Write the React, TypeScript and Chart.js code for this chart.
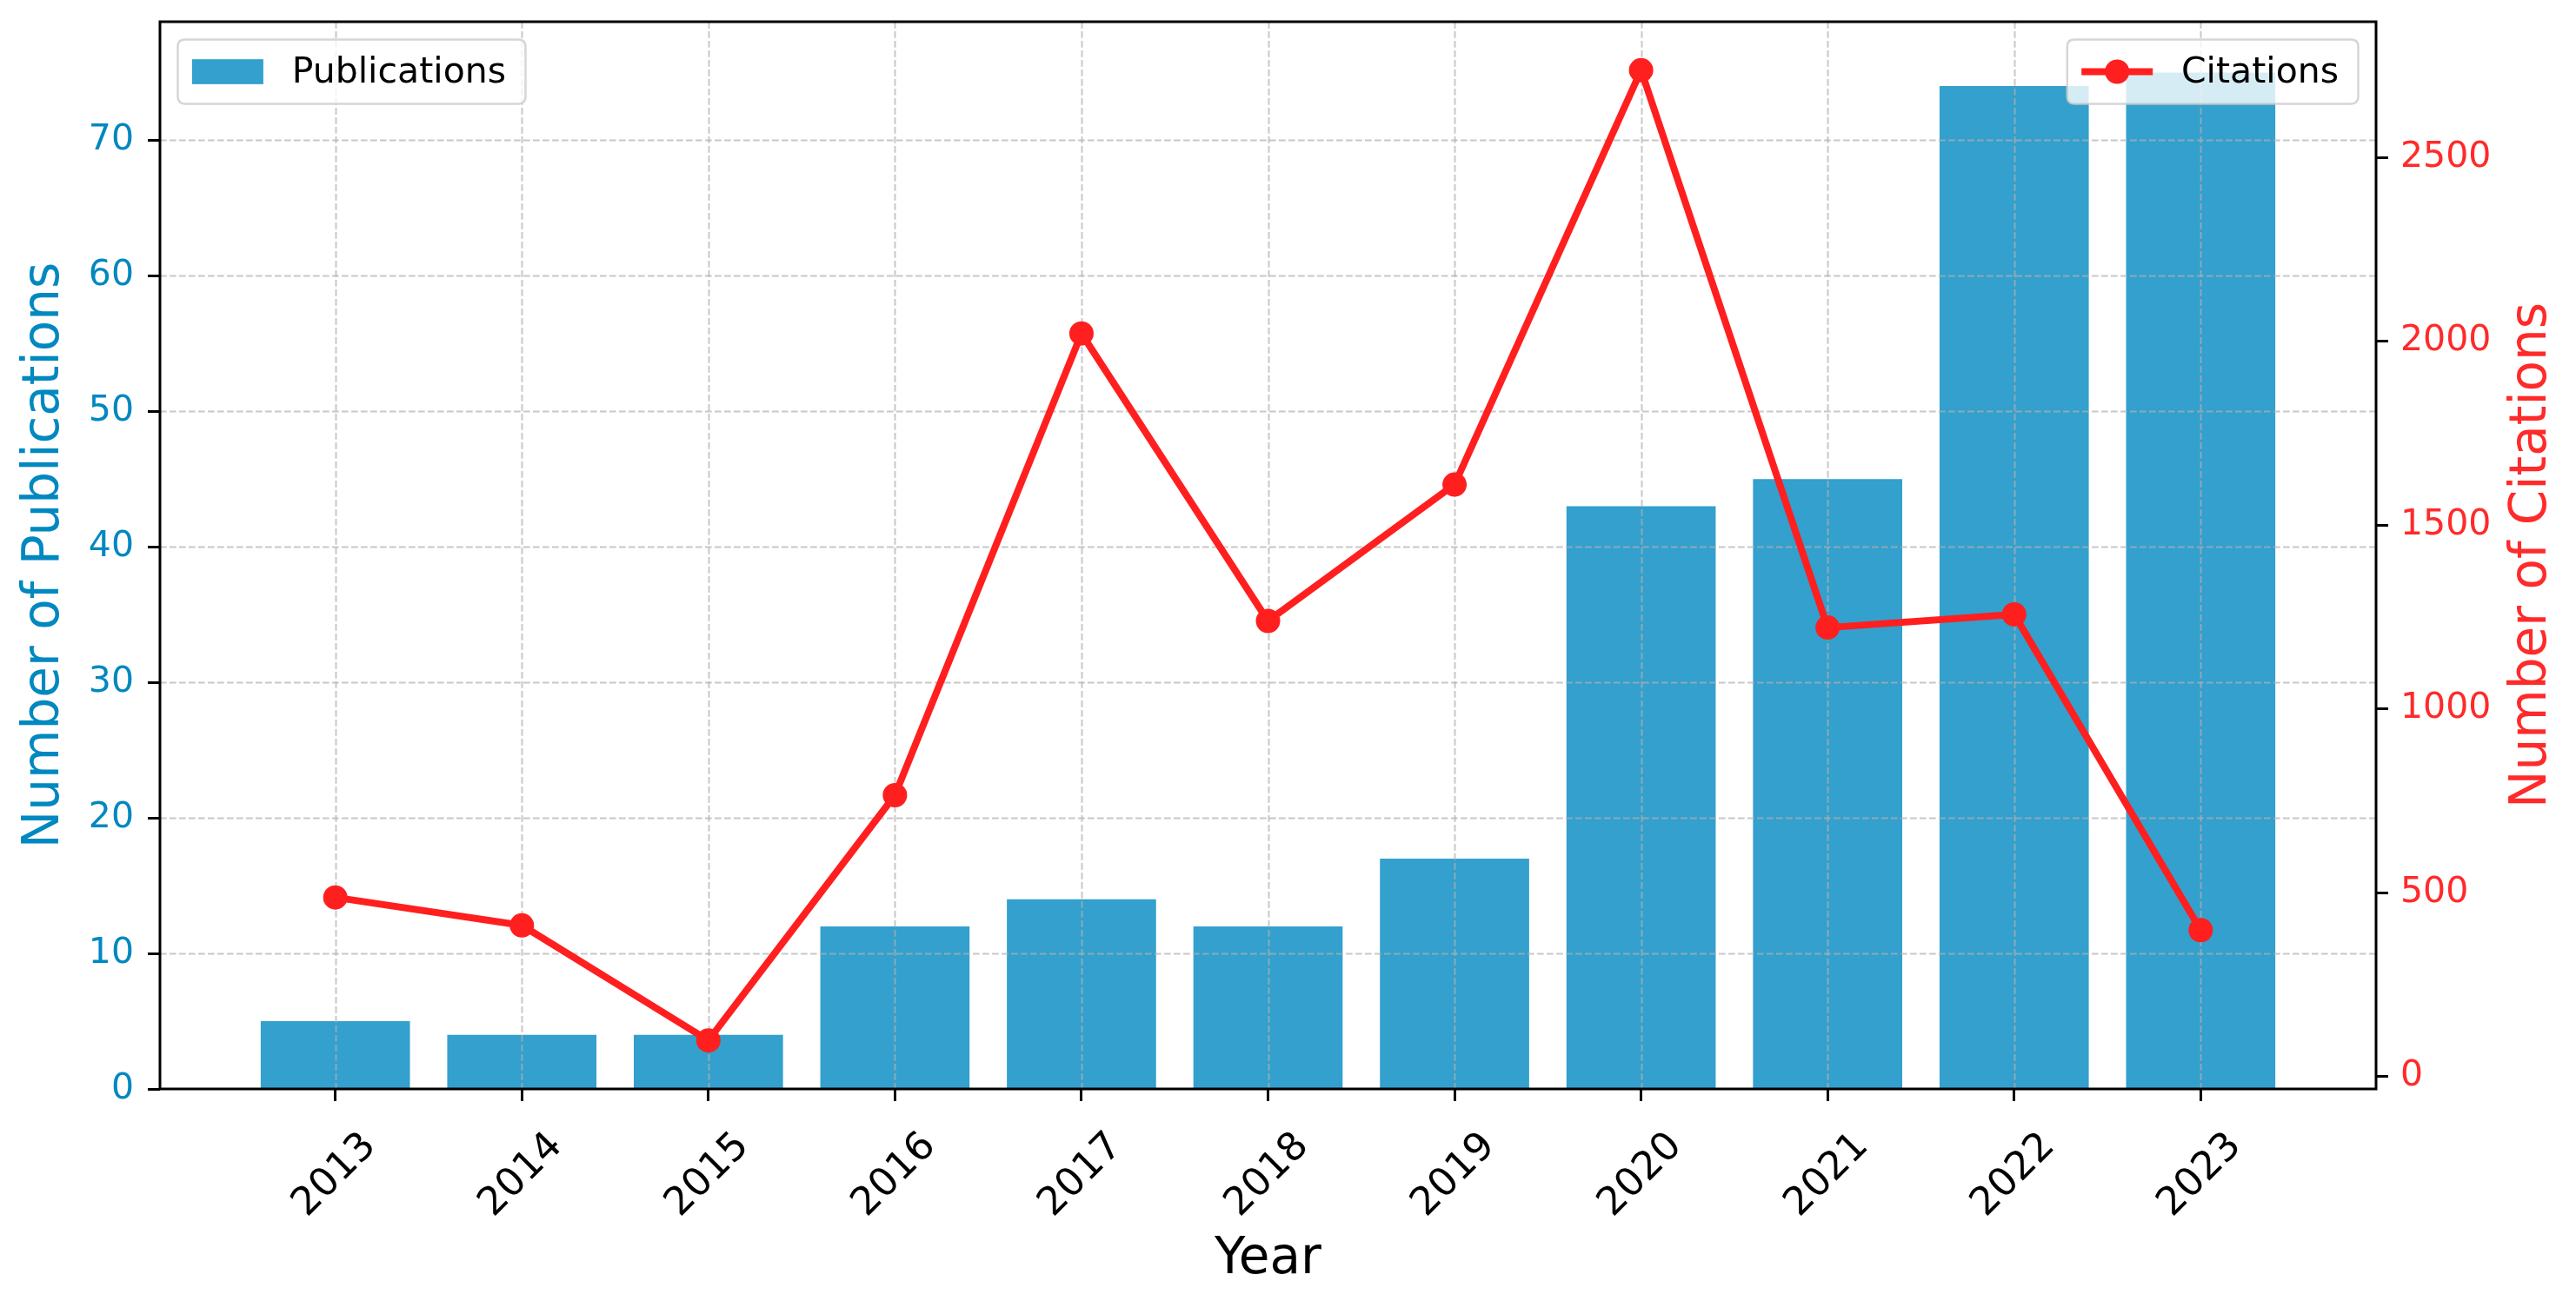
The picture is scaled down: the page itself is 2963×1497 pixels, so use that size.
import React, { useEffect, useRef } from 'react';
import { Chart, registerables } from 'chart.js';

Chart.register(...registerables);

// ---------------- data ----------------
const years = [2013, 2014, 2015, 2016, 2017, 2018, 2019, 2020, 2021, 2022, 2023];
const publications = [5, 4, 4, 12, 14, 12, 17, 43, 45, 74, 75];
const citations = [487, 411, 98, 765, 2021, 1239, 1610, 2737, 1221, 1257, 398];
const leftTicks = [0, 10, 20, 30, 40, 50, 60, 70];
const rightTicks = [0, 500, 1000, 1500, 2000, 2500];
const xTitle = 'Year';
const leftTitle = 'Number of Publications';
const rightTitle = 'Number of Citations';
const barLegend = 'Publications';
const lineLegend = 'Citations';

// ---------------- style ----------------
const FONT = '"DejaVu Sans", sans-serif';
const W = 2963;
const H = 1497;
const BLUE_TEXT = '#0088c0';
const BAR_COLOR = 'rgba(0,136,192,0.8)';
const LINE_COLOR = '#ff1f1f';
const RED_TEXT = '#ff2a2a';
const GRID_COLOR = 'rgba(176,176,176,0.7)';
const TICK_FS = 41;
const XTICK_FS = 45;
const TITLE_FS = 58;
const LEGEND_FS = 41;

// axis limits like matplotlib auto margins
const xSpan = years.length - 1 + 0.8;
const xMin = years[0] - 0.4 - 0.05 * xSpan;
const xMax = years[years.length - 1] + 0.4 + 0.05 * xSpan;
const yMax = Math.max(...publications) * 1.05;
const cMin = Math.min(...citations);
const cMax = Math.max(...citations);
const cPad = 0.05 * (cMax - cMin);

function roundRect(ctx: CanvasRenderingContext2D, x: number, y: number, w: number, h: number, r: number) {
  ctx.beginPath();
  ctx.moveTo(x + r, y);
  ctx.lineTo(x + w - r, y);
  ctx.quadraticCurveTo(x + w, y, x + w, y + r);
  ctx.lineTo(x + w, y + h - r);
  ctx.quadraticCurveTo(x + w, y + h, x + w - r, y + h);
  ctx.lineTo(x + r, y + h);
  ctx.quadraticCurveTo(x, y + h, x, y + h - r);
  ctx.lineTo(x, y + r);
  ctx.quadraticCurveTo(x, y, x + r, y);
  ctx.closePath();
}

const overlayPlugin = {
  id: 'overlay',
  beforeDatasetDraw(chart: any, args: any) {
    if (args.index !== 1) return;
    // grid drawn above bars, below line
    const { ctx, chartArea } = chart;
    const xs = chart.scales.x;
    const ys = chart.scales.y;
    ctx.save();
    ctx.beginPath();
    ctx.rect(chartArea.left, chartArea.top, chartArea.right - chartArea.left, chartArea.bottom - chartArea.top);
    ctx.clip();
    ctx.strokeStyle = GRID_COLOR;
    ctx.lineWidth = 2;
    ctx.setLineDash([7.7, 3.3]);
    years.forEach((v) => {
      const px = Math.round(xs.getPixelForValue(v)) + 0.5;
      ctx.beginPath();
      ctx.moveTo(px, chartArea.top);
      ctx.lineTo(px, chartArea.bottom);
      ctx.stroke();
    });
    leftTicks.forEach((v) => {
      const py = Math.round(ys.getPixelForValue(v)) + 0.5;
      ctx.beginPath();
      ctx.moveTo(chartArea.left, py);
      ctx.lineTo(chartArea.right, py);
      ctx.stroke();
    });
    ctx.restore();
  },
  afterDatasetsDraw(chart: any) {
    const { ctx, chartArea } = chart;
    const fs = LEGEND_FS;
    const pad = 0.4 * fs;
    const handleLen = 2 * fs;
    const handleGap = 0.8 * fs;
    const axPad = 0.5 * fs;
    const boxH = 74;
    const radius = 0.2 * fs;
    ctx.save();
    ctx.font = `${fs}px ${FONT}`;
    ctx.textBaseline = 'middle';
    ctx.textAlign = 'left';

    // Publications legend (top-left)
    {
      const tw = ctx.measureText(barLegend).width;
      const w = pad + handleLen + handleGap + tw + pad + 6;
      const x = chartArea.left + axPad;
      const y = chartArea.top + axPad;
      roundRect(ctx, x, y, w, boxH, radius);
      ctx.fillStyle = 'rgba(255,255,255,0.8)';
      ctx.fill();
      ctx.strokeStyle = 'rgba(204,204,204,0.8)';
      ctx.lineWidth = 2.5;
      ctx.stroke();
      const cy = y + boxH / 2;
      ctx.fillStyle = BAR_COLOR;
      ctx.fillRect(x + pad, cy - 0.35 * fs, handleLen, 0.7 * fs);
      ctx.fillStyle = '#000';
      ctx.fillText(barLegend, x + pad + handleLen + handleGap, cy + 2);
    }
    // Citations legend (top-right)
    {
      const tw = ctx.measureText(lineLegend).width;
      const w = pad + handleLen + handleGap + tw + pad + 6;
      const x = chartArea.right - axPad - w;
      const y = chartArea.top + axPad;
      roundRect(ctx, x, y, w, boxH, radius);
      ctx.fillStyle = 'rgba(255,255,255,0.8)';
      ctx.fill();
      ctx.strokeStyle = 'rgba(204,204,204,0.8)';
      ctx.lineWidth = 2.5;
      ctx.stroke();
      const cy = y + boxH / 2;
      ctx.strokeStyle = LINE_COLOR;
      ctx.lineWidth = 8;
      ctx.beginPath();
      ctx.moveTo(x + pad, cy);
      ctx.lineTo(x + pad + handleLen, cy);
      ctx.stroke();
      ctx.fillStyle = LINE_COLOR;
      ctx.beginPath();
      ctx.arc(x + pad + handleLen / 2, cy, 14, 0, Math.PI * 2);
      ctx.fill();
      ctx.fillStyle = '#000';
      ctx.fillText(lineLegend, x + pad + handleLen + handleGap, cy + 2);
    }
    ctx.restore();
  },
  afterDraw(chart: any) {
    const { ctx, chartArea } = chart;
    ctx.save();
    // frame (spines)
    ctx.strokeStyle = '#000';
    ctx.lineWidth = 3;
    ctx.setLineDash([]);
    ctx.strokeRect(chartArea.left, chartArea.top, chartArea.right - chartArea.left, chartArea.bottom - chartArea.top);
    // right axis title, reading bottom-to-top
    ctx.translate(2913, (chartArea.top + chartArea.bottom) / 2);
    ctx.rotate(-Math.PI / 2);
    ctx.font = `${TITLE_FS}px ${FONT}`;
    ctx.fillStyle = RED_TEXT;
    ctx.textAlign = 'center';
    ctx.textBaseline = 'middle';
    ctx.fillText(rightTitle, 0, 0);
    ctx.restore();
  },
};

const zeroPad = (s: any) => {
  s.paddingTop = 0;
  s.paddingBottom = 0;
  s.paddingLeft = 0;
  s.paddingRight = 0;
};

export default function App() {
  const ref = useRef<HTMLCanvasElement>(null);

  useEffect(() => {
    document.body.style.margin = '0';
    const canvas = ref.current;
    if (!canvas) return;

    const tickGrid = {
      drawOnChartArea: false,
      drawTicks: true,
      offset: false,
      tickLength: 14,
      tickWidth: 3,
      tickColor: '#000',
      tickBorderDash: [],
    };

    const chart = new Chart(canvas, {
      type: 'bar',
      data: {
        datasets: [
          {
            type: 'bar',
            label: barLegend,
            data: years.map((x, i) => ({ x, y: publications[i] })),
            backgroundColor: BAR_COLOR,
            borderWidth: 0,
            xAxisID: 'x',
            yAxisID: 'y',
            order: 1,
            categoryPercentage: 1,
            barPercentage: 0.8,
          } as any,
          {
            type: 'line',
            label: lineLegend,
            data: years.map((x, i) => ({ x, y: citations[i] })),
            borderColor: LINE_COLOR,
            backgroundColor: LINE_COLOR,
            borderWidth: 8,
            borderJoinStyle: 'round',
            borderCapStyle: 'round',
            pointRadius: 12,
            pointBorderWidth: 4,
            pointBackgroundColor: LINE_COLOR,
            pointBorderColor: LINE_COLOR,
            tension: 0,
            fill: false,
            xAxisID: 'x',
            yAxisID: 'y1',
            order: 0,
          } as any,
        ],
      },
      options: {
        responsive: false,
        maintainAspectRatio: false,
        devicePixelRatio: 1,
        animation: false,
        layout: { padding: { top: 25, left: 0, right: 0, bottom: 0 } },
        plugins: {
          legend: { display: false },
          tooltip: { enabled: false },
        },
        scales: {
          x: {
            type: 'linear',
            position: 'bottom',
            min: xMin,
            max: xMax,
            offset: false,
            afterBuildTicks: (s: any) => {
              s.ticks = years.map((v) => ({ value: v }));
            },
            afterFit: (s: any) => {
              s.height = 244;
              zeroPad(s);
            },
            grid: tickGrid as any,
            border: { display: false },
            ticks: {
              autoSkip: false,
              minRotation: 45,
              maxRotation: 45,
              padding: 26,
              labelOffset: 40,
              color: '#000',
              font: { family: FONT, size: XTICK_FS },
              callback: (v: any) => String(v),
            },
            title: {
              display: true,
              text: xTitle,
              color: '#000',
              font: { family: FONT, size: TITLE_FS },
              padding: { top: 0, bottom: 12 },
            },
          },
          y: {
            type: 'linear',
            position: 'left',
            min: 0,
            max: yMax,
            afterBuildTicks: (s: any) => {
              s.ticks = leftTicks.map((v) => ({ value: v }));
            },
            afterFit: (s: any) => {
              s.width = 184;
              zeroPad(s);
            },
            grid: tickGrid as any,
            border: { display: false },
            ticks: {
              color: BLUE_TEXT,
              padding: 16,
              font: { family: FONT, size: TICK_FS },
              callback: (v: any) => String(v),
            },
            title: {
              display: true,
              text: leftTitle,
              color: BLUE_TEXT,
              font: { family: FONT, size: TITLE_FS },
              padding: { top: 17, bottom: 0 },
            },
          },
          y1: {
            type: 'linear',
            position: 'right',
            min: cMin - cPad,
            max: cMax + cPad,
            afterBuildTicks: (s: any) => {
              s.ticks = rightTicks.map((v) => ({ value: v }));
            },
            afterFit: (s: any) => {
              s.width = 230;
              zeroPad(s);
            },
            grid: tickGrid as any,
            border: { display: false },
            ticks: {
              color: RED_TEXT,
              padding: 14,
              font: { family: FONT, size: TICK_FS },
              callback: (v: any) => String(v),
            },
          },
        },
      },
      plugins: [overlayPlugin],
    } as any);

    return () => chart.destroy();
  }, []);

  return (
    <div style={{ width: W, height: H }}>
      <canvas ref={ref} width={W} height={H} style={{ display: 'block', width: W, height: H }} />
    </div>
  );
}
